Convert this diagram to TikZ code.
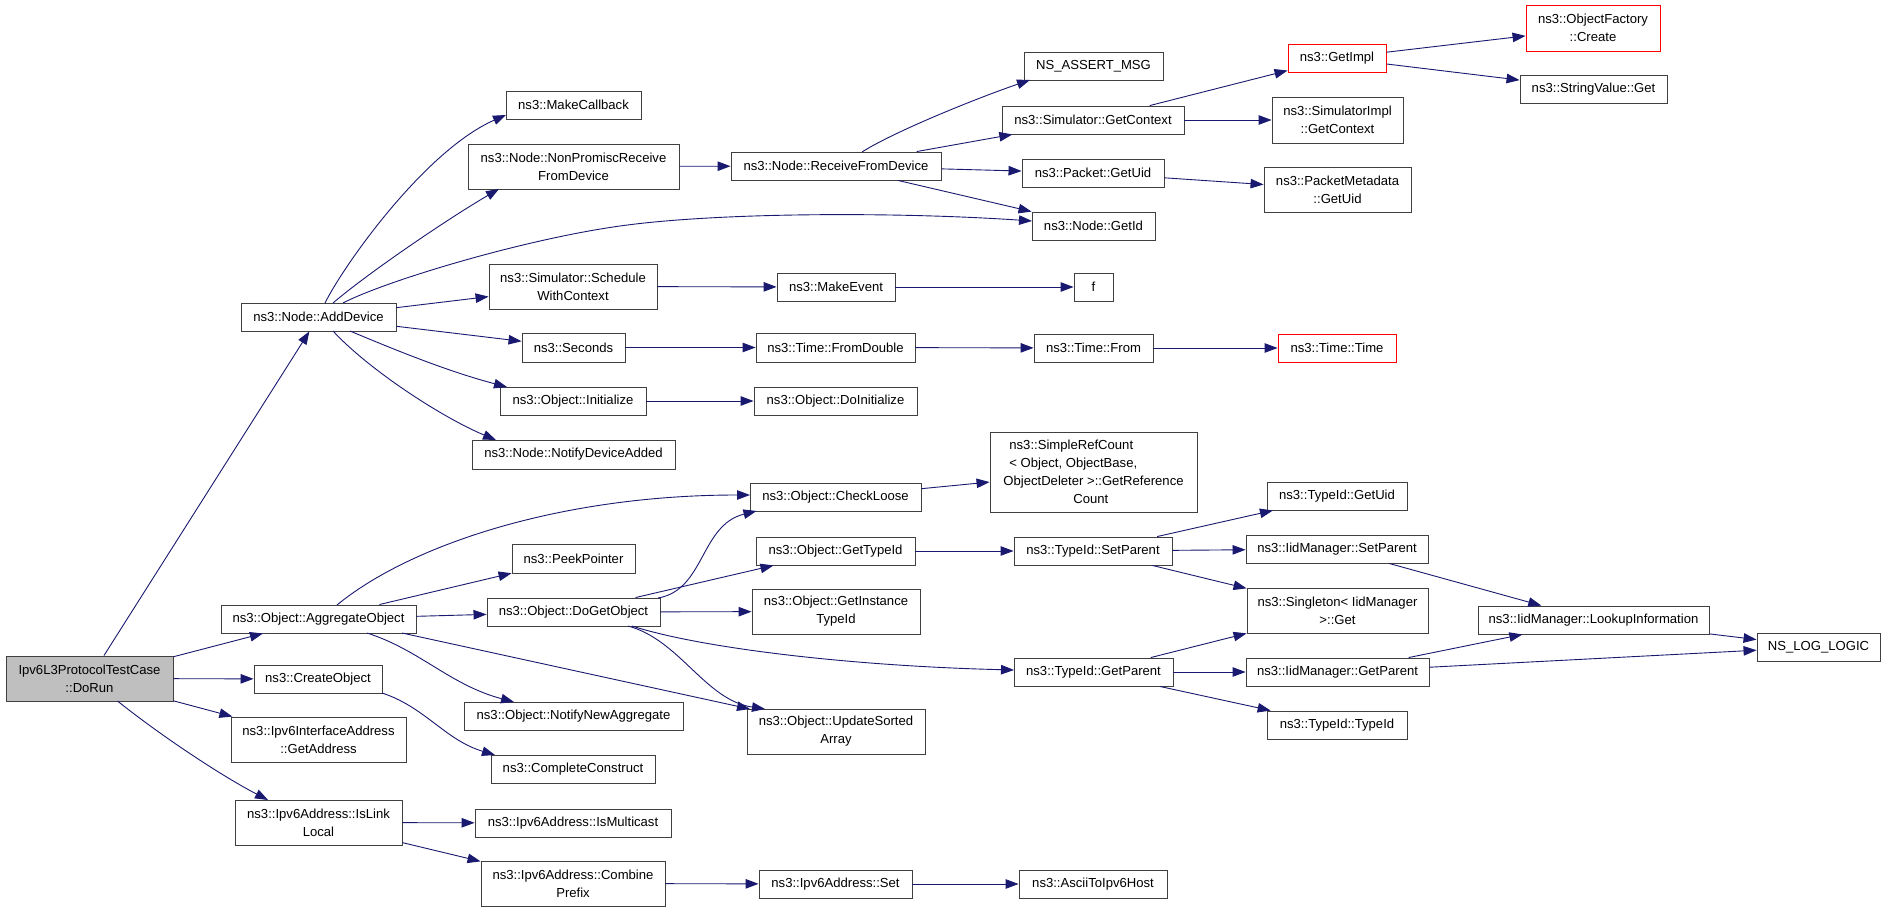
\documentclass[tikz,border=0pt]{standalone}
\usepackage{fontspec}
\setmainfont{Liberation Sans}
\usetikzlibrary{arrows.meta,calc}
\definecolor{edgeblue}{HTML}{191970}
\definecolor{boxline}{HTML}{404040}
\definecolor{grayfill}{HTML}{BFBFBF}
\tikzset{
  fn/.style={draw=boxline, line width=0.9pt, fill=white, inner sep=0pt, align=center,
    font=\fontsize{13.1}{17.8}\selectfont, text=black},
  fnred/.style={draw=red},
  fnroot/.style={fill=grayfill},
  call/.style={draw=edgeblue, line width=0.9pt, -{Triangle[length=13pt,width=9.5pt]}}
}
\newcommand{\bx}[7][]{%
  \pgfmathsetmacro{\bxcx}{(#3+#5)/2}\pgfmathsetmacro{\bxcy}{(#4+#6)/2}%
  \pgfmathsetmacro{\bxw}{#5-#3}\pgfmathsetmacro{\bxh}{#6-#4}%
  \node[fn,#1,minimum width=\bxw pt,minimum height=\bxh pt] (#2) at (\bxcx,\bxcy) {#7};}
\begin{document}
\begin{tikzpicture}[x=1pt,y=-1pt]
\fill[white] (0,0) rectangle (1885,912);
\useasboundingbox (0,0) rectangle (1885,912);
% column 1
\bx[fnroot]{dorun}{6}{656}{173}{701}{Ipv6L3ProtocolTestCase\\::DoRun}
\bx{adddev}{241}{303}{396}{331}{ns3::Node::AddDevice}
\bx{aggobj}{221}{605}{416}{633}{ns3::Object::AggregateObject}
\bx{createobj}{254}{665}{382}{693}{ns3::CreateObject}
\bx{getaddr}{231}{717}{406}{762}{ns3::Ipv6InterfaceAddress\\::GetAddress}
\bx{islinklocal}{235}{800}{402}{845}{ns3::Ipv6Address::IsLink\\Local}
% column 2
\bx{makecb}{506}{91}{641}{119}{ns3::MakeCallback}
\bx{nonpromisc}{468}{144}{679}{189}{ns3::Node::NonPromiscReceive\\FromDevice}
\bx{schedwc}{489}{264}{657}{309}{ns3::Simulator::Schedule\\WithContext}
\bx{seconds}{522}{333}{625}{362}{ns3::Seconds}
\bx{initialize}{500}{387}{646}{415}{ns3::Object::Initialize}
\bx{notifydev}{472}{440}{675}{469}{ns3::Node::NotifyDeviceAdded}
\bx{peekptr}{512}{544}{635}{573}{ns3::PeekPointer}
\bx{dogetobj}{487}{598}{660}{626}{ns3::Object::DoGetObject}
\bx{notifynewagg}{464}{702}{683}{730}{ns3::Object::NotifyNewAggregate}
\bx{completeconstr}{491}{755}{655}{783}{ns3::CompleteConstruct}
\bx{ismulticast}{475}{809}{671}{837}{ns3::Ipv6Address::IsMulticast}
\bx{combineprefix}{481}{861}{665}{906}{ns3::Ipv6Address::Combine\\Prefix}
% column 3
\bx{recvfromdev}{731}{152}{941}{180}{ns3::Node::ReceiveFromDevice}
\bx{makeevent}{777}{273}{895}{301}{ns3::MakeEvent}
\bx{fromdouble}{756}{333}{915}{362}{ns3::Time::FromDouble}
\bx{doinit}{754}{387}{917}{415}{ns3::Object::DoInitialize}
\bx{checkloose}{750}{483}{921}{511}{ns3::Object::CheckLoose}
\bx{gettypeid}{756}{537}{915}{565}{ns3::Object::GetTypeId}
\bx{getinsttypeid}{752}{589}{920}{634}{ns3::Object::GetInstance\\TypeId}
\bx{updsorted}{747}{709}{925}{754}{ns3::Object::UpdateSorted\\Array}
\bx{ipv6set}{759}{870}{912}{898}{ns3::Ipv6Address::Set}
% column 4
\bx{nsassert}{1024}{52}{1163}{80}{NS\_ASSERT\_MSG}
\bx{simgetctx}{1002}{106}{1184}{134}{ns3::Simulator::GetContext}
\bx{pktgetuid}{1022}{159}{1164}{187}{ns3::Packet::GetUid}
\bx{nodegetid}{1032}{212}{1155}{240}{ns3::Node::GetId}
\bx{fbox}{1074}{273}{1113}{301}{f}
\bx{timefrom}{1034}{334}{1153}{362}{ns3::Time::From}
\bx[align=left]{simplerefcount}{990}{432}{1197}{512}{\hspace*{6pt}ns3::SimpleRefCount\\\hspace*{6pt}< Object, ObjectBase,\\ObjectDeleter >::GetReference\\\hspace*{70pt}Count}
\bx{tsetparent}{1014}{537}{1172}{565}{ns3::TypeId::SetParent}
\bx{tgetparent}{1014}{658}{1173}{686}{ns3::TypeId::GetParent}
\bx{ascii}{1019}{870}{1167}{898}{ns3::AsciiToIpv6Host}
% column 5
\bx[fnred]{getimpl}{1288}{44}{1386}{72}{ns3::GetImpl}
\bx{simimplctx}{1272}{97}{1403}{143}{ns3::SimulatorImpl\\::GetContext}
\bx{pktmeta}{1264}{167}{1411}{212}{ns3::PacketMetadata\\::GetUid}
\bx[fnred]{timetime}{1278}{334}{1396}{362}{ns3::Time::Time}
\bx{tidgetuid}{1267}{482}{1407}{510}{ns3::TypeId::GetUid}
\bx{iidsetparent}{1246}{535}{1428}{563}{ns3::IidManager::SetParent}
\bx{singleton}{1247}{588}{1428}{633}{ns3::Singleton< IidManager\\ >::Get}
\bx{iidgetparent}{1246}{658}{1429}{686}{ns3::IidManager::GetParent}
\bx{tidtypeid}{1267}{711}{1407}{739}{ns3::TypeId::TypeId}
% column 6
\bx[fnred]{objfactory}{1526}{5}{1660}{51}{ns3::ObjectFactory\\::Create}
\bx{strvalget}{1520}{75}{1667}{103}{ns3::StringValue::Get}
\bx{lookupinfo}{1478}{606}{1709}{634}{ns3::IidManager::LookupInformation}
% column 7
\bx{nslog}{1757}{633}{1880}{661}{NS\_LOG\_LOGIC}

% edges from DoRun
\draw[call] (dorun) -- (adddev);
\draw[call] (dorun) -- (aggobj);
\draw[call] (dorun) -- (createobj);
\draw[call] (dorun) -- (getaddr);
\draw[call] ($(dorun)+(28,22.5)$) .. controls (160,735) and (220,775) .. ($(islinklocal)+(-50.5,-22.5)$);
% edges from AddDevice
\draw[call] ($(adddev)+(6.5,-14)$) .. controls (345,263) and (426,150) .. ($(makecb)+(-67.5,10)$);
\draw[call] ($(adddev)+(14.5,-14)$) .. controls (368,273) and (449,218) .. ($(nonpromisc)+(-74.5,22.5)$);
\draw[call] ($(adddev)+(24.5,-14)$) .. controls (383,282) and (520,240) .. (620,226) .. controls (720,212) and (900,212) .. ($(nodegetid)+(-61.5,-5)$);
\draw[call] (adddev) -- (schedwc);
\draw[call] (adddev) -- (seconds);
\draw[call] ($(adddev)+(31.5,14)$) .. controls (400,352) and (450,372) .. ($(initialize)+(-66,-14)$);
\draw[call] ($(adddev)+(14.5,14)$) .. controls (368,369) and (441,417) .. ($(notifydev)+(-77.5,-14.5)$);
% ReceiveFromDevice chain
\draw[call] (nonpromisc) -- (recvfromdev);
\draw[call] ($(recvfromdev)+(26,-14)$) .. controls (895,131) and (980,97) .. ($(nsassert)+(-63.5,14)$);
\draw[call] (recvfromdev) -- (simgetctx);
\draw[call] (recvfromdev) -- (pktgetuid);
\draw[call] (recvfromdev) -- (nodegetid);
\draw[call] (simgetctx) -- (getimpl);
\draw[call] (simgetctx) -- (simimplctx);
\draw[call] (pktgetuid) -- (pktmeta);
\draw[call] (getimpl) -- (objfactory);
\draw[call] (getimpl) -- (strvalget);
% horizontal chains
\draw[call] (schedwc) -- (makeevent);
\draw[call] (makeevent) -- (fbox);
\draw[call] (seconds) -- (fromdouble);
\draw[call] (fromdouble) -- (timefrom);
\draw[call] (timefrom) -- (timetime);
\draw[call] (initialize) -- (doinit);
% AggregateObject
\draw[call] ($(aggobj)+(18.5,-14)$) .. controls (410,545) and (560,495) .. ($(checkloose)+(-85.5,-2)$);
\draw[call] (aggobj) -- (peekptr);
\draw[call] (aggobj) -- (dogetobj);
\draw[call] ($(aggobj)+(83.5,14)$) -- ($(updsorted)+(-86,-22.5)$);
\draw[call] ($(aggobj)+(48.5,14)$) .. controls (420,650) and (450,685) .. ($(notifynewagg)+(-59.5,-14)$);
\draw[call] ($(createobj)+(64,14)$) .. controls (425,707) and (445,740) .. ($(completeconstr)+(-78,-14)$);
% IsLinkLocal
\draw[call] (islinklocal) -- (ismulticast);
\draw[call] (islinklocal) -- (combineprefix);
\draw[call] (combineprefix) -- (ipv6set);
\draw[call] (ipv6set) -- (ascii);
% DoGetObject
\draw[call] ($(dogetobj)+(84.5,-14)$) .. controls (705,590) and (700,525) .. ($(checkloose)+(-79,14)$);
\draw[call] (dogetobj) -- (gettypeid);
\draw[call] (dogetobj) -- (getinsttypeid);
\draw[call] ($(dogetobj)+(54.5,14)$) .. controls (680,640) and (705,700) .. ($(updsorted)+(-71,-22.5)$);
\draw[call] ($(dogetobj)+(58.5,14)$) .. controls (700,648) and (850,666) .. ($(tgetparent)+(-79.5,-2)$);
\draw[call] (gettypeid) -- (tsetparent);
\draw[call] (checkloose) -- (simplerefcount);
% TypeId
\draw[call] (tsetparent) -- (tidgetuid);
\draw[call] (tsetparent) -- (iidsetparent);
\draw[call] (tsetparent) -- (singleton);
\draw[call] (tgetparent) -- (singleton);
\draw[call] (tgetparent) -- (iidgetparent);
\draw[call] (tgetparent) -- (tidtypeid);
\draw[call] (iidsetparent) -- (lookupinfo);
\draw[call] (iidgetparent) -- (lookupinfo);
\draw[call] (iidgetparent) -- (nslog);
\draw[call] (lookupinfo) -- (nslog);
\end{tikzpicture}
\end{document}
